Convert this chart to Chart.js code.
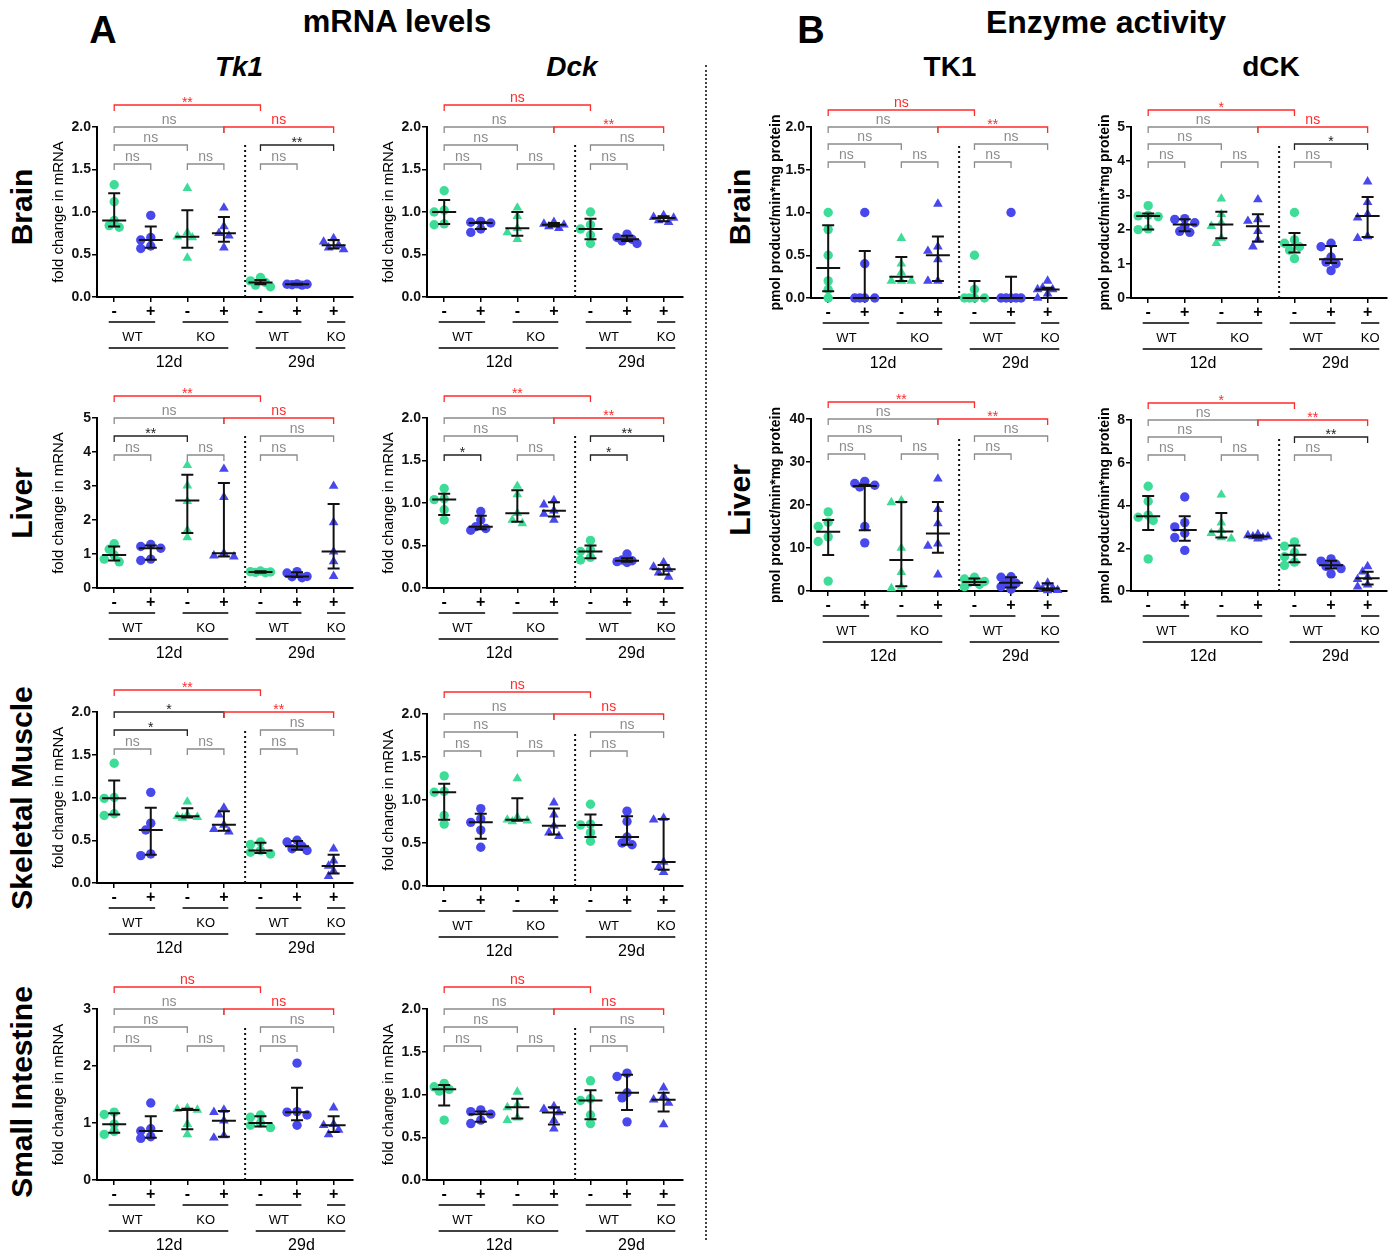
<!DOCTYPE html>
<html>
<head>
<meta charset="utf-8">
<script src="https://cdn.jsdelivr.net/npm/chart.js@4.4.1/dist/chart.umd.min.js"></script>
<style>
  body { margin: 0; background: #fff; font-family: "Liberation Sans", Arial, sans-serif; }
  #page { position: relative; width: 1397px; height: 1255px; overflow: hidden; background: #fff; }
  .t { position: absolute; transform: translate(-50%, -50%); white-space: nowrap; font-weight: bold; color: #000; }
  .r { position: absolute; transform: translate(-50%, -50%) rotate(-90deg); white-space: nowrap; font-weight: bold; font-size: 30px; color: #000; }
  canvas { position: absolute; }
  #sep { position: absolute; left: 705px; top: 65px; height: 1175px; border-left: 2px dotted #444; }
</style>
</head>
<body>
<div id="page">
  <div class="t" style="left:103px;top:30px;font-size:38px;">A</div>
  <div class="t" style="left:397px;top:22px;font-size:31px;">mRNA levels</div>
  <div class="t" style="left:239px;top:67px;font-size:28px;font-style:italic;">Tk1</div>
  <div class="t" style="left:572px;top:67px;font-size:28px;font-style:italic;">Dck</div>
  <div class="t" style="left:811px;top:30px;font-size:38px;">B</div>
  <div class="t" style="left:1106px;top:22px;font-size:32px;">Enzyme activity</div>
  <div class="t" style="left:950px;top:67px;font-size:28px;">TK1</div>
  <div class="t" style="left:1271px;top:67px;font-size:28px;">dCK</div>

  <div class="r" style="left:22px;top:207px;">Brain</div>
  <div class="r" style="left:22px;top:503px;">Liver</div>
  <div class="r" style="left:22px;top:798px;">Skeletal Muscle</div>
  <div class="r" style="left:22px;top:1092px;">Small Intestine</div>
  <div class="r" style="left:740px;top:207px;">Brain</div>
  <div class="r" style="left:740px;top:500px;">Liver</div>
  <div id="sep"></div>
</div>

<script>
// ---- data ----
const signs = ['-', '+', '-', '+', '-', '+', '+'];
const genotypes = ['WT', 'KO', 'WT', 'KO'];
const ages = ['12d', '29d'];

const foldTicks = [0, 0.5, 1, 1.5, 2];
const tk1LiverTicks = [0, 1, 2, 3, 4, 5];
const tk1IntestineTicks = [0, 1, 2, 3];
const tk1EnzBrainTicks = [0, 0.5, 1, 1.5, 2];
const tk1EnzLiverTicks = [0, 10, 20, 30, 40];
const dckEnzBrainTicks = [0, 1, 2, 3, 4, 5];
const dckEnzLiverTicks = [0, 2, 4, 6, 8];

// points per group; stats per group are [q1, median, q3]
const tk1Brain = [
  [1.32, 1.12, 0.90, 0.84, 0.82],
  [0.96, 0.70, 0.67, 0.60, 0.57],
  [1.28, 0.76, 0.71, 0.70, 0.46],
  [1.05, 0.83, 0.75, 0.72, 0.58],
  [0.23, 0.19, 0.17, 0.14, 0.12],
  [0.155, 0.15, 0.15, 0.145, 0.14],
  [0.69, 0.65, 0.61, 0.58, 0.56]
];
const tk1BrainStats = [[0.83, 0.90, 1.22], [0.58, 0.67, 0.83], [0.58, 0.71, 1.02], [0.65, 0.75, 0.94], [0.15, 0.17, 0.20], [0.145, 0.15, 0.155], [0.57, 0.61, 0.67]];
const tk1BrainSig = ['**', 'ns', 'ns', 'ns', '**', 'ns', 'ns', 'ns'];

const tk1Liver = [
  [1.30, 1.14, 0.97, 0.85, 0.77],
  [1.28, 1.22, 1.17, 0.85, 0.81],
  [3.61, 3.01, 2.55, 1.70, 1.49],
  [3.50, 2.67, 1.02, 0.95, 0.92],
  [0.50, 0.48, 0.47, 0.46, 0.45],
  [0.48, 0.44, 0.34, 0.33, 0.30],
  [3.00, 1.93, 1.07, 0.78, 0.35]
];
const tk1LiverStats = [[0.81, 0.97, 1.22], [0.83, 1.17, 1.25], [1.62, 2.57, 3.33], [0.93, 1.02, 3.09], [0.45, 0.47, 0.49], [0.32, 0.34, 0.46], [0.57, 1.07, 2.47]];
const tk1LiverSig = ['**', 'ns', 'ns', '**', 'ns', 'ns', 'ns', 'ns'];

const tk1Muscle = [
  [1.40, 1.00, 0.99, 0.81, 0.79],
  [1.06, 0.70, 0.62, 0.34, 0.32],
  [0.95, 0.80, 0.78, 0.77, 0.76],
  [0.88, 0.80, 0.68, 0.63, 0.60],
  [0.48, 0.45, 0.38, 0.36, 0.34],
  [0.50, 0.48, 0.43, 0.40, 0.38],
  [0.40, 0.26, 0.20, 0.14, 0.08]
];
const tk1MuscleStats = [[0.80, 0.99, 1.20], [0.33, 0.62, 0.88], [0.765, 0.78, 0.875], [0.61, 0.68, 0.84], [0.35, 0.38, 0.47], [0.39, 0.43, 0.49], [0.11, 0.20, 0.33]];
const tk1MuscleSig = ['**', '*', '**', '*', 'ns', 'ns', 'ns', 'ns'];

const tk1Intestine = [
  [1.19, 1.15, 0.98, 0.85, 0.80],
  [1.35, 0.90, 0.86, 0.76, 0.73],
  [1.26, 1.24, 1.23, 0.98, 0.80],
  [1.23, 1.19, 1.04, 0.78, 0.74],
  [1.14, 1.10, 1.00, 0.96, 0.92],
  [2.05, 1.20, 1.19, 1.14, 0.96],
  [1.27, 0.98, 0.96, 0.88, 0.80]
];
const tk1IntestineStats = [[0.83, 0.98, 1.17], [0.74, 0.86, 1.12], [0.89, 1.23, 1.25], [0.76, 1.04, 1.21], [0.94, 1.00, 1.12], [1.05, 1.19, 1.62], [0.84, 0.96, 1.12]];
const tk1IntestineSig = ['ns', 'ns', 'ns', 'ns', 'ns', 'ns', 'ns', 'ns'];

const dckBrain = [
  [1.25, 1.02, 1.00, 0.86, 0.85],
  [0.89, 0.88, 0.87, 0.80, 0.76],
  [1.05, 0.95, 0.81, 0.76, 0.68],
  [0.88, 0.86, 0.85, 0.83, 0.81],
  [1.00, 0.85, 0.80, 0.73, 0.63],
  [0.74, 0.70, 0.68, 0.66, 0.63],
  [0.96, 0.94, 0.93, 0.90, 0.88]
];
const dckBrainStats = [[0.86, 1.00, 1.14], [0.80, 0.87, 0.88], [0.72, 0.81, 1.00], [0.83, 0.85, 0.87], [0.68, 0.80, 0.92], [0.66, 0.68, 0.72], [0.89, 0.93, 0.95]];
const dckBrainSig = ['ns', 'ns', '**', 'ns', 'ns', 'ns', 'ns', 'ns'];

const dckLiver = [
  [1.17, 1.05, 1.04, 0.92, 0.80],
  [0.90, 0.80, 0.72, 0.70, 0.68],
  [1.20, 1.10, 0.88, 0.80, 0.76],
  [1.03, 0.98, 0.91, 0.87, 0.80],
  [0.56, 0.45, 0.43, 0.36, 0.33],
  [0.40, 0.33, 0.32, 0.31, 0.30],
  [0.30, 0.25, 0.22, 0.18, 0.13]
];
const dckLiverStats = [[0.86, 1.04, 1.11], [0.69, 0.72, 0.85], [0.78, 0.88, 1.15], [0.84, 0.91, 1.01], [0.35, 0.43, 0.50], [0.31, 0.32, 0.35], [0.16, 0.22, 0.27]];
const dckLiverSig = ['**', 'ns', '**', 'ns', '**', '*', 'ns', '*'];

const dckMuscle = [
  [1.28, 1.10, 1.09, 0.82, 0.72],
  [0.90, 0.78, 0.74, 0.65, 0.45],
  [1.25, 0.80, 0.77, 0.76, 0.75],
  [0.97, 0.83, 0.70, 0.62, 0.58],
  [0.95, 0.72, 0.71, 0.62, 0.52],
  [0.87, 0.75, 0.57, 0.50, 0.48],
  [0.79, 0.77, 0.28, 0.22, 0.16]
];
const dckMuscleStats = [[0.77, 1.09, 1.19], [0.55, 0.74, 0.84], [0.76, 0.77, 1.02], [0.60, 0.70, 0.90], [0.57, 0.71, 0.83], [0.48, 0.57, 0.81], [0.19, 0.28, 0.78]];
const dckMuscleSig = ['ns', 'ns', 'ns', 'ns', 'ns', 'ns', 'ns', 'ns'];

const dckIntestine = [
  [1.13, 1.09, 1.06, 1.04, 0.70],
  [0.82, 0.80, 0.77, 0.70, 0.66],
  [1.03, 0.88, 0.85, 0.73, 0.70],
  [0.86, 0.83, 0.79, 0.70, 0.60],
  [1.16, 0.95, 0.93, 0.76, 0.66],
  [1.25, 1.21, 1.02, 0.96, 0.68],
  [1.08, 0.98, 0.94, 0.90, 0.65]
];
const dckIntestineStats = [[0.87, 1.06, 1.11], [0.68, 0.77, 0.80], [0.72, 0.85, 0.95], [0.65, 0.79, 0.85], [0.71, 0.93, 1.05], [0.82, 1.02, 1.23], [0.80, 0.94, 1.02]];
const dckIntestineSig = ['ns', 'ns', 'ns', 'ns', 'ns', 'ns', 'ns', 'ns'];

const tk1EnzBrain = [
  [1.0, 0.8, 0.5, 0.2, 0.1, 0.0],
  [1.0, 0.4, 0, 0, 0, 0],
  [0.7, 0.4, 0.3, 0.2, 0.2, 0.2],
  [1.1, 0.6, 0.55, 0.45, 0.2, 0.2],
  [0.5, 0.1, 0, 0, 0, 0],
  [1.0, 0, 0, 0, 0, 0],
  [0.2, 0.12, 0.1, 0.1, 0.05, 0]
];
const tk1EnzBrainStats = [[0.08, 0.35, 0.85], [0, 0, 0.55], [0.2, 0.25, 0.48], [0.2, 0.5, 0.72], [0, 0, 0.2], [0, 0, 0.25], [0, 0.1, 0.12]];
const tk1EnzBrainSig = ['ns', 'ns', '**', 'ns', 'ns', 'ns', 'ns', 'ns'];

const tk1EnzLiver = [
  [18.4, 16.0, 15.0, 12.6, 11.5, 2.3],
  [25.5, 25.0, 24.6, 24.2, 15.0, 11.2],
  [21.0, 20.6, 10.0, 4.4, 1.0, 0.6],
  [26.1, 19.0, 15.7, 11.0, 10.5, 3.8],
  [3.2, 2.8, 2.2, 2.0, 1.5, 1.0],
  [3.3, 3.2, 2.0, 1.8, 1.0, 0.4],
  [1.9, 1.2, 0.7, 0.5, 0.2, 0.1]
];
const tk1EnzLiverStats = [[8.4, 13.8, 16.5], [14.1, 24.4, 24.7], [1.1, 7.2, 20.7], [8.9, 13.4, 20.7], [1.4, 2.1, 2.9], [0.8, 1.9, 3.2], [0.2, 0.6, 1.8]];
const tk1EnzLiverSig = ['**', 'ns', '**', 'ns', 'ns', 'ns', 'ns', 'ns'];

const dckEnzBrain = [
  [2.70, 2.42, 2.40, 2.38, 2.02, 2.00],
  [2.32, 2.30, 2.20, 2.10, 1.95, 1.92],
  [2.90, 2.45, 2.20, 2.10, 1.75, 1.60],
  [2.88, 2.30, 2.25, 1.95, 1.70, 1.50],
  [2.50, 1.70, 1.60, 1.50, 1.40, 1.15],
  [1.60, 1.50, 1.20, 1.05, 1.00, 0.80],
  [3.40, 2.80, 2.45, 2.35, 1.80, 1.75]
];
const dckEnzBrainStats = [[2.0, 2.4, 2.47], [1.95, 2.15, 2.30], [1.75, 2.15, 2.52], [1.65, 2.1, 2.45], [1.33, 1.55, 1.9], [1.02, 1.13, 1.52], [1.78, 2.4, 2.95]];
const dckEnzBrainSig = ['*', 'ns', 'ns', 'ns', '*', 'ns', 'ns', 'ns'];

const dckEnzLiver = [
  [4.90, 4.20, 3.55, 3.45, 3.30, 1.50],
  [4.40, 3.20, 3.00, 2.70, 2.50, 1.90],
  [4.50, 3.20, 2.85, 2.70, 2.50, 2.45],
  [2.65, 2.60, 2.55, 2.55, 2.50, 2.45],
  [2.30, 2.10, 1.80, 1.60, 1.35, 1.20],
  [1.50, 1.40, 1.25, 1.15, 1.05, 0.80],
  [1.15, 0.90, 0.65, 0.55, 0.30, 0.20]
];
const dckEnzLiverStats = [[2.85, 3.5, 4.45], [2.35, 2.85, 3.5], [2.5, 2.78, 3.65], [2.5, 2.55, 2.6], [1.35, 1.7, 2.13], [1.05, 1.2, 1.42], [0.3, 0.6, 0.9]];
const dckEnzLiverSig = ['*', 'ns', '**', 'ns', '**', 'ns', 'ns', 'ns'];

// ---- drawing ----
const GREEN = '#3ddc97';
const BLUE = '#4848ec';
const RED = '#ff2b2b';
const GREY = '#8c8c8c';
const FONT = '"Liberation Sans", Arial, sans-serif';
Chart.defaults.font.family = FONT;

// bracket pairs: from, to, level, red?
const pairs = [[0, 4, 0, true], [0, 3, 1, false], [3, 6, 1, true], [0, 2, 2, false], [4, 6, 2, false], [0, 1, 3, false], [2, 3, 3, false], [4, 5, 3, false]];
const triGroups = [2, 3, 6];
const greenGroups = [0, 2, 4];

// scatter-dot style horizontal offsets (category units), kept within +-10 px
function spread(vals, pxPerUnit, pxPerCat) {
  const placed = [];
  const slots = [0, -5, 5, -10, 10];
  return vals.map(v => {
    const y = v * pxPerUnit;
    let best = 0, bestD = -1;
    for (const s of slots) {
      const d = placed.length ? Math.min(...placed.map(p => Math.hypot(p.x - s, p.y - y))) : 99;
      if (d >= 7) { best = s; bestD = d; break; }
      if (d > bestD) { bestD = d; best = s; }
    }
    placed.push({ x: best, y });
    return best / pxPerCat;
  });
}

function makePanel(p) {
  const page = document.getElementById('page');
  const yW = 50, padTop = 48, axisH = 80, plotW = 256, padR = 6;
  const plotH = p.bottom - p.top;
  const W = yW + plotW + padR, H = padTop + plotH + axisH;
  const cv = document.createElement('canvas');
  cv.width = W; cv.height = H;
  cv.style.left = (p.x0 - yW) + 'px';
  cv.style.top = (p.top - padTop) + 'px';
  cv.style.width = W + 'px'; cv.style.height = H + 'px';
  page.appendChild(cv);

  const ticks = p.ticks;
  const yMax = ticks[ticks.length - 1];
  const dec = ticks.some(v => v % 1 !== 0);
  const xMin = -0.47, xMax = 6.53;
  const pxPerCat = plotW / (xMax - xMin);
  const enz = p.kind === 'enz';
  const levels = enz ? [-17, 0, 17, 35] : [-22, 0, 18, 37];

  const datasets = p.pts.map((vals, g) => {
    const off = spread(vals, plotH / yMax, pxPerCat);
    const tri = triGroups.includes(g);
    return {
      data: vals.map((v, j) => ({ x: g + off[j], y: v })),
      pointStyle: tri ? 'triangle' : 'circle',
      pointRadius: tri ? 5.6 : 4.7,
      pointBackgroundColor: greenGroups.includes(g) ? GREEN : BLUE,
      pointBorderWidth: 0,
      clip: false
    };
  });

  const deco = {
    id: 'deco',
    afterDatasetsDraw(chart) {
      const { ctx, scales: { x, y } } = chart;
      ctx.save();
      ctx.strokeStyle = '#111';
      ctx.lineWidth = 2;
      p.stats.forEach((s, g) => {
        const cx = x.getPixelForValue(g);
        const lo = y.getPixelForValue(s[0]), md = y.getPixelForValue(s[1]), hi = y.getPixelForValue(s[2]);
        ctx.beginPath();
        ctx.moveTo(cx - 12, md); ctx.lineTo(cx + 12, md);
        ctx.moveTo(cx, lo); ctx.lineTo(cx, hi);
        ctx.moveTo(cx - 6, lo); ctx.lineTo(cx + 6, lo);
        ctx.moveTo(cx - 6, hi); ctx.lineTo(cx + 6, hi);
        ctx.stroke();
      });
      ctx.restore();
    },
    afterDraw(chart) {
      const { ctx, chartArea: a, scales: { x } } = chart;
      const X = v => x.getPixelForValue(v);
      ctx.save();
      // dotted divider between ages
      ctx.strokeStyle = '#111';
      ctx.lineWidth = 2;
      ctx.setLineDash([2, 3]);
      ctx.beginPath();
      ctx.moveTo(X(3.58), a.bottom);
      ctx.lineTo(X(3.58), a.top + levels[2]);
      ctx.stroke();
      ctx.setLineDash([]);

      // significance brackets
      ctx.lineWidth = 1.3;
      ctx.textAlign = 'center';
      ctx.textBaseline = 'alphabetic';
      pairs.forEach(([f, t, lv, red], i) => {
        const lab = p.sig[i];
        const col = red ? RED : (lab === 'ns' ? GREY : '#222');
        const yy = a.top + levels[lv];
        ctx.strokeStyle = col;
        ctx.beginPath();
        ctx.moveTo(X(f), yy + 6); ctx.lineTo(X(f), yy);
        ctx.lineTo(X(t), yy); ctx.lineTo(X(t), yy + 6);
        ctx.stroke();
        ctx.fillStyle = col;
        ctx.font = '14px ' + FONT;
        ctx.fillText(lab, (X(f) + X(t)) / 2, lab === 'ns' ? yy - 3 : yy + 2);
      });

      // grouping lines and labels under the axis
      ctx.strokeStyle = '#000';
      ctx.lineWidth = 1.5;
      const seg = (a0, a1, yy) => { ctx.beginPath(); ctx.moveTo(X(a0), yy); ctx.lineTo(X(a1), yy); ctx.stroke(); };
      const b = a.bottom;
      seg(-0.15, 1.12, b + 25); seg(1.87, 3.12, b + 25); seg(-0.15, 3.12, b + 51);
      seg(3.87, 5.12, b + 25); seg(5.82, 6.32, b + 25); seg(3.87, 6.32, b + 51);
      ctx.fillStyle = '#000';
      ctx.textBaseline = 'middle';
      ctx.font = '13px ' + FONT;
      ctx.fillText(genotypes[0], X(0.5), b + 40);
      ctx.fillText(genotypes[1], X(2.5), b + 40);
      ctx.fillText(genotypes[2], X(4.5), b + 40);
      ctx.fillText(genotypes[3], X(6.07), b + 40);
      ctx.font = '16px ' + FONT;
      ctx.fillText(ages[0], X(1.5), b + 66);
      ctx.fillText(ages[1], X(5.12), b + 66);
      ctx.restore();
    }
  };

  new Chart(cv, {
    type: 'scatter',
    data: { datasets },
    options: {
      responsive: false,
      animation: false,
      events: [],
      layout: { padding: { top: padTop, left: 0, right: padR, bottom: 0 } },
      plugins: { legend: { display: false }, tooltip: { enabled: false } },
      scales: {
        x: {
          type: 'linear', min: xMin, max: xMax,
          afterBuildTicks: s => { s.ticks = signs.map((_, i) => ({ value: i })); },
          afterFit: s => { s.height = axisH; },
          ticks: {
            callback: v => signs[v] ?? '',
            autoSkip: false, maxRotation: 0, padding: 0,
            color: '#000', font: { size: 16, weight: 'bold' }
          },
          grid: { drawOnChartArea: false, drawTicks: true, tickLength: 5, color: '#000', lineWidth: 1.5 },
          border: { color: '#000', width: 2 }
        },
        y: {
          type: 'linear', min: ticks[0], max: yMax,
          afterBuildTicks: s => { s.ticks = ticks.map(v => ({ value: v })); },
          afterFit: s => { s.width = yW; },
          ticks: {
            callback: v => dec ? v.toFixed(1) : String(v),
            padding: 1, color: '#111', font: { size: 14, weight: 'bold' }
          },
          grid: { drawOnChartArea: false, drawTicks: true, tickLength: 5, color: '#000', lineWidth: 1.5 },
          border: { color: '#000', width: 2 },
          title: {
            display: true,
            text: enz ? 'pmol product/min*mg protein' : 'fold change in mRNA',
            color: '#000',
            font: enz ? { size: 14, weight: 'bold' } : { size: 15, weight: 'normal' },
            padding: { top: p.titlePad, bottom: 0 }
          }
        }
      }
    },
    plugins: [deco]
  });
}

const panels = [
  { pts: tk1Brain, stats: tk1BrainStats, sig: tk1BrainSig, ticks: foldTicks, kind: 'mrna', x0: 97, top: 127, bottom: 297, titlePad: 3 },
  { pts: tk1Liver, stats: tk1LiverStats, sig: tk1LiverSig, ticks: tk1LiverTicks, kind: 'mrna', x0: 97, top: 418, bottom: 588, titlePad: 3 },
  { pts: tk1Muscle, stats: tk1MuscleStats, sig: tk1MuscleSig, ticks: foldTicks, kind: 'mrna', x0: 97, top: 712, bottom: 883, titlePad: 3 },
  { pts: tk1Intestine, stats: tk1IntestineStats, sig: tk1IntestineSig, ticks: tk1IntestineTicks, kind: 'mrna', x0: 97, top: 1009, bottom: 1180, titlePad: 3 },
  { pts: dckBrain, stats: dckBrainStats, sig: dckBrainSig, ticks: foldTicks, kind: 'mrna', x0: 427, top: 127, bottom: 297, titlePad: 3 },
  { pts: dckLiver, stats: dckLiverStats, sig: dckLiverSig, ticks: foldTicks, kind: 'mrna', x0: 427, top: 418, bottom: 588, titlePad: 3 },
  { pts: dckMuscle, stats: dckMuscleStats, sig: dckMuscleSig, ticks: foldTicks, kind: 'mrna', x0: 427, top: 714, bottom: 886, titlePad: 3 },
  { pts: dckIntestine, stats: dckIntestineStats, sig: dckIntestineSig, ticks: foldTicks, kind: 'mrna', x0: 427, top: 1009, bottom: 1180, titlePad: 3 },
  { pts: tk1EnzBrain, stats: tk1EnzBrainStats, sig: tk1EnzBrainSig, ticks: tk1EnzBrainTicks, kind: 'enz', x0: 811, top: 127, bottom: 298, titlePad: 7 },
  { pts: tk1EnzLiver, stats: tk1EnzLiverStats, sig: tk1EnzLiverSig, ticks: tk1EnzLiverTicks, kind: 'enz', x0: 811, top: 419, bottom: 591, titlePad: 7 },
  { pts: dckEnzBrain, stats: dckEnzBrainStats, sig: dckEnzBrainSig, ticks: dckEnzBrainTicks, kind: 'enz', x0: 1131, top: 127, bottom: 298, titlePad: 16 },
  { pts: dckEnzLiver, stats: dckEnzLiverStats, sig: dckEnzLiverSig, ticks: dckEnzLiverTicks, kind: 'enz', x0: 1131, top: 420, bottom: 591, titlePad: 16 }
];

panels.forEach(makePanel);
</script>
</body>
</html>
